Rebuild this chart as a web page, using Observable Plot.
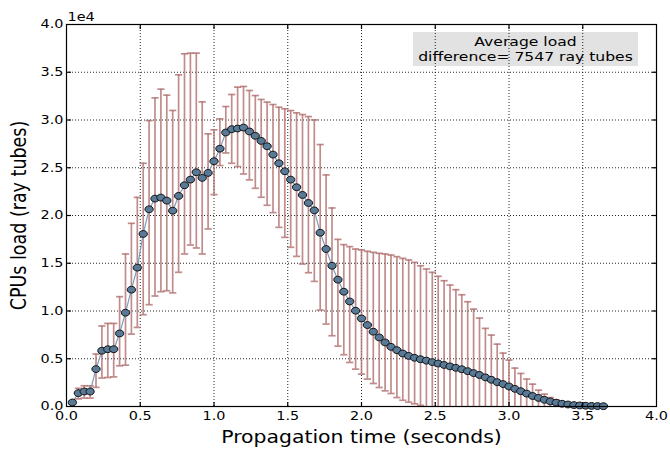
<!DOCTYPE html>
<html>
<head>
<meta charset="utf-8">
<script src="https://cdn.jsdelivr.net/npm/d3@7"></script>
<script src="https://cdn.jsdelivr.net/npm/@observablehq/plot@0.6"></script>
<style>
  html, body { margin: 0; padding: 0; background: #fff; }
  svg { font-family: "DejaVu Sans", sans-serif; }
</style>
</head>
<body>
<div id="chart"></div>
<script>
// Propagation time (seconds)
const times = [0.04,0.08,0.12,0.16,0.20,0.24,0.28,0.32,0.36,0.40,
  0.44,0.48,0.52,0.56,0.60,0.64,0.68,0.72,0.76,0.80,
  0.84,0.88,0.92,0.96,1.00,1.04,1.08,1.12,1.16,1.20,
  1.24,1.28,1.32,1.36,1.40,1.44,1.48,1.52,1.56,1.60,
  1.64,1.68,1.72,1.76,1.80,1.84,1.88,1.92,1.96,2.00,
  2.04,2.08,2.12,2.16,2.20,2.24,2.28,2.32,2.36,2.40,
  2.44,2.48,2.52,2.56,2.60,2.64,2.68,2.72,2.76,2.80,
  2.84,2.88,2.92,2.96,3.00,3.04,3.08,3.12,3.16,3.20,
  3.24,3.28,3.32,3.36,3.40,3.44,3.48,3.52,3.56,3.60,3.64];
// CPUs load (ray tubes)
const load = [420,1400,1570,1570,3920,5840,6000,6000,7650,9820,
  12230,14540,18070,20650,21770,21880,21560,20500,22050,23170,
  23760,24530,23940,24460,25680,27000,28690,29040,29110,29210,
  28800,28340,27810,27250,26380,25470,24630,23760,22960,22150,
  21310,20540,18200,16490,14740,13280,12020,11000,10030,9220,
  8530,7830,7230,6710,6250,5900,5550,5300,5100,4950,
  4800,4650,4500,4350,4200,4050,3900,3700,3500,3300,
  3050,2800,2550,2350,2100,1850,1600,1350,1100,900,
  700,530,400,290,210,150,110,80,60,45,35];
const loadHigh = [600,1900,2170,2170,5490,8430,8700,8700,11500,15970,
  19180,21900,25470,29940,32320,33230,32600,31000,34730,36930,
  37000,37000,31900,28550,28970,30120,31410,32670,33440,33510,
  33090,32560,32150,31870,31620,31340,31170,30990,30750,30570,
  30360,30010,27430,24250,20790,17500,16950,16740,16490,16390,
  16250,16140,16040,15970,15860,15690,15510,15340,15090,14740,
  14400,14050,13630,13170,12720,12230,11700,10970,10200,9260,
  8180,7480,6530,5590,4860,4020,3460,2870,2340,1710,
  1290,940,700,490,350,260,180,120,90,70,50];
const loadLow = [250,800,880,880,2000,2980,3040,3100,4260,4330,
  7580,8280,9610,10660,11570,12020,12120,11900,14050,15970,
  16910,16600,15970,18590,22190,25230,26550,25470,25120,24350,
  23730,22850,21910,21070,20300,18760,17710,16670,15720,14920,
  14010,13100,10100,8630,7410,6320,5420,4610,3910,3390,
  2870,2410,1990,1640,1360,940,650,450,280,120,
  -100,-500,-900,-1300,-1700,-2100,-2500,-2800,-3000,-3200,
  -3200,-3200,-3100,-3000,-2900,-2800,-2500,-2100,-1800,-1500,
  -1200,-900,-600,-400,-300,-200,-100,-100,-50,-50,-30];

const xTicks = [0, 0.5, 1.0, 1.5, 2.0, 2.5, 3.0, 3.5, 4.0];
const yTicks = [0, 5000, 10000, 15000, 20000, 25000, 30000, 35000, 40000];
const xGrid = [0.5, 1.0, 1.5, 2.0, 2.5, 3.0, 3.5];
const yGrid = [5000, 10000, 15000, 20000, 25000, 30000, 35000];
const xLabel = "Propagation time (seconds)";
const yLabel = "CPUs load (ray tubes)";
const offsetLabel = "1e4";
const noteLines = ["Average load", "difference= 7547 ray tubes"];

const data = times.map((t, i) => ({t, v: load[i], hi: loadHigh[i], lo: loadLow[i]}));

const errColor = "#b26f6f";
const S = 1.2; // horizontal text stretch of the reference

const capSymbol = {draw(ctx, size) { const r = Math.sqrt(size / Math.PI); ctx.moveTo(-r, 0); ctx.lineTo(r, 0); }};
const ellipseSymbol = {draw(ctx, size) {
  const ry = Math.sqrt(size / Math.PI), rx = ry * 1.22, k = 0.5523;
  ctx.moveTo(rx, 0);
  ctx.bezierCurveTo(rx, k * ry, k * rx, ry, 0, ry);
  ctx.bezierCurveTo(-k * rx, ry, -rx, k * ry, -rx, 0);
  ctx.bezierCurveTo(-rx, -k * ry, -k * rx, -ry, 0, -ry);
  ctx.bezierCurveTo(k * rx, -ry, rx, -k * ry, rx, 0);
  ctx.closePath();
}};
const tickUp = {draw(ctx) { ctx.moveTo(0, 0); ctx.lineTo(0, -4.5); }};
const tickDown = {draw(ctx) { ctx.moveTo(0, 0); ctx.lineTo(0, 4.5); }};
const tickRight = {draw(ctx) { ctx.moveTo(0, 0); ctx.lineTo(4.5, 0); }};
const tickLeft = {draw(ctx) { ctx.moveTo(0, 0); ctx.lineTo(-4.5, 0); }};

const gridStyle = {stroke: "#000", strokeWidth: 1, strokeDasharray: "1,2", strokeOpacity: 0.85};
const tickStyle = {fill: "none", stroke: "#000", strokeWidth: 1.2};

const plot = Plot.plot({
  width: 670,
  height: 450,
  marginLeft: 66,
  marginRight: 14,
  marginTop: 24,
  marginBottom: 44,
  style: {fontFamily: "'DejaVu Sans', sans-serif", fontSize: "12px", color: "#000", background: "#fff"},
  x: {domain: [0, 4], label: null},
  y: {domain: [0, 40000], label: null},
  marks: [
    Plot.ruleX(xGrid, {x: d => d, ...gridStyle}),
    Plot.ruleY(yGrid, {y: d => d, ...gridStyle}),
    Plot.ruleX(data, {x: "t", y1: "lo", y2: "hi", stroke: errColor, strokeWidth: 1.7, strokeOpacity: 0.8, clip: true}),
    Plot.dot(data, {x: "t", y: "hi", symbol: capSymbol, r: 3.6, fill: "none", stroke: errColor, strokeWidth: 1.7, strokeOpacity: 0.8, clip: true}),
    Plot.dot(data, {x: "t", y: "lo", symbol: capSymbol, r: 3.6, fill: "none", stroke: errColor, strokeWidth: 1.7, strokeOpacity: 0.8, clip: true}),
    Plot.line(data, {x: "t", y: "v", stroke: "#7b9dbd", strokeWidth: 1.2}),
    Plot.dot(data, {x: "t", y: "v", symbol: ellipseSymbol, r: 3.4, fill: "#587a96", stroke: "#111", strokeWidth: 1}),
    Plot.frame({stroke: "#000", strokeWidth: 1.2}),
    Plot.dot(xGrid, {x: d => d, frameAnchor: "bottom", symbol: tickUp, ...tickStyle}),
    Plot.dot(xGrid, {x: d => d, frameAnchor: "top", symbol: tickDown, ...tickStyle}),
    Plot.dot(yGrid, {y: d => d, frameAnchor: "left", symbol: tickRight, ...tickStyle}),
    Plot.dot(yGrid, {y: d => d, frameAnchor: "right", symbol: tickLeft, ...tickStyle}),
    Plot.axisX({ticks: xTicks, tickSize: 0, tickPadding: 5, tickFormat: d3.format(".1f"), fontSize: 12, label: null}),
    Plot.axisY({ticks: yTicks, tickSize: 0, tickPadding: 3, tickFormat: d => (d / 1e4).toFixed(1), fontSize: 12, label: null}),
    Plot.text([xLabel], {text: d => d, frameAnchor: "bottom", dy: 31, textAnchor: "middle", lineAnchor: "middle", fontSize: 17}),
    Plot.text([yLabel], {text: d => d, frameAnchor: "left", dx: -47, rotate: -90, textAnchor: "middle", lineAnchor: "middle", fontSize: 17.5}),
    Plot.text([offsetLabel], {text: d => d, frameAnchor: "top-left", dx: 1, dy: -7.5, textAnchor: "start", lineAnchor: "middle", fontSize: 12})
  ]
});

// annotation box (behind the grid), upper right of the frame
const svg = d3.select(plot);
const frameRight = 670 - 14, frameTop = 24;
const boxW = 225, boxH = 34, boxX = frameRight - 18 - boxW, boxY = frameTop + 8;
svg.insert("rect", "g")
  .attr("x", boxX).attr("y", boxY).attr("width", boxW).attr("height", boxH)
  .attr("fill", "#e2e2e2");
noteLines.forEach((line, i) => {
  svg.append("text")
    .attr("transform", `translate(${boxX + boxW / 2},${boxY + 9.5 + i * 15})`)
    .attr("text-anchor", "middle")
    .attr("dy", "0.35em")
    .attr("font-size", 13)
    .attr("fill", "#000")
    .text(line);
});

// stretch all text horizontally like the reference
svg.selectAll("text").each(function() {
  const tr = this.getAttribute("transform");
  if (tr == null) {
    const x = +(this.getAttribute("x") || 0), y = +(this.getAttribute("y") || 0);
    this.removeAttribute("x"); this.removeAttribute("y");
    this.setAttribute("transform", `translate(${x},${y}) scale(${S},1)`);
  } else if (tr.includes("rotate")) {
    this.setAttribute("transform", tr.replace("rotate", `scale(${S},1) rotate`));
  } else {
    this.setAttribute("transform", tr + ` scale(${S},1)`);
  }
});

document.getElementById("chart").appendChild(plot);
</script>
</body>
</html>
